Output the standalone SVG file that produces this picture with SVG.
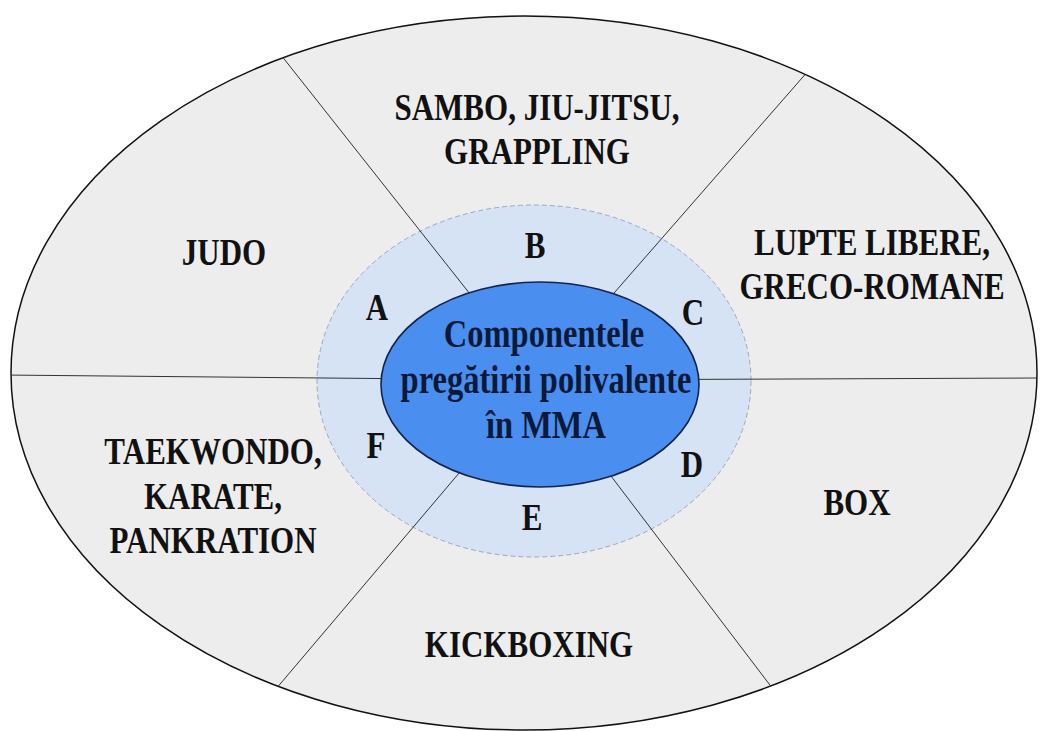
<svg xmlns="http://www.w3.org/2000/svg" width="1040" height="731" viewBox="0 0 1040 731">
<defs>
<style>
.lbl{font-family:"Liberation Serif","Times New Roman",serif;font-weight:bold;font-size:31px;fill:#111;text-anchor:middle}
.ctr{font-family:"Liberation Serif","Times New Roman",serif;font-weight:bold;font-size:32.5px;fill:#0c1a3a;text-anchor:middle}
.spoke{stroke:#333;stroke-width:1;fill:none}
</style>
<clipPath id="outerClip"><ellipse cx="524" cy="373" rx="513" ry="357"/></clipPath>
</defs>
<rect width="1040" height="731" fill="#ffffff"/>
<g id="outer">
<ellipse cx="524" cy="373" rx="513" ry="357" fill="#ededed" stroke="#111" stroke-width="1.5"/>
</g>
<g id="middle">
<ellipse cx="534" cy="381" rx="217" ry="176" fill="#d5e3f5" stroke="#9aa8bf" stroke-width="1" stroke-dasharray="5,3"/>
</g>
<g id="connectors" clip-path="url(#outerClip)">
<line class="spoke" x1="538" y1="380" x2="262" y2="31"/>
<line class="spoke" x1="538" y1="380" x2="830" y2="46"/>
<line class="spoke" x1="538" y1="380" x2="0" y2="375"/>
<line class="spoke" x1="538" y1="380" x2="1040" y2="378"/>
<line class="spoke" x1="538" y1="380" x2="253" y2="716"/>
<line class="spoke" x1="538" y1="380" x2="798" y2="722"/>
</g>
<g id="center">
<ellipse cx="540" cy="384.5" rx="159" ry="102.5" fill="#4a8ef0" stroke="#14244a" stroke-width="1.6"/>
<text class="ctr" transform="translate(544,347) scale(1,1.2)">Componentele</text>
<text class="ctr" transform="translate(546,392.5) scale(1,1.2)">pregătirii polivalente</text>
<text class="ctr" transform="translate(546,438) scale(1,1.2)">în MMA</text>
</g>
<g id="judo"><text class="lbl" transform="translate(224,265) scale(1,1.2)">JUDO</text></g>
<g id="sambo">
<text class="lbl" transform="translate(537,120) scale(1,1.2)">SAMBO, JIU-JITSU,</text>
<text class="lbl" transform="translate(537,164) scale(1,1.2)">GRAPPLING</text>
</g>
<g id="lupte">
<text class="lbl" transform="translate(872,255) scale(1,1.2)">LUPTE LIBERE,</text>
<text class="lbl" transform="translate(872,299) scale(1,1.2)">GRECO-ROMANE</text>
</g>
<g id="taekwondo">
<text class="lbl" transform="translate(213,464) scale(1,1.2)">TAEKWONDO,</text>
<text class="lbl" transform="translate(213,509) scale(1,1.2)">KARATE,</text>
<text class="lbl" transform="translate(213,553) scale(1,1.2)">PANKRATION</text>
</g>
<g id="kickboxing"><text class="lbl" transform="translate(529,657) scale(1,1.2)">KICKBOXING</text></g>
<g id="box"><text class="lbl" transform="translate(857,515) scale(1,1.2)">BOX</text></g>
<g id="letters">
<text class="lbl" transform="translate(377,320) scale(1,1.2)">A</text>
<text class="lbl" transform="translate(535,258) scale(1,1.2)">B</text>
<text class="lbl" transform="translate(693,325) scale(1,1.2)">C</text>
<text class="lbl" transform="translate(692,477) scale(1,1.2)">D</text>
<text class="lbl" transform="translate(532,530) scale(1,1.2)">E</text>
<text class="lbl" transform="translate(376,458) scale(1,1.2)">F</text>
</g>
</svg>
